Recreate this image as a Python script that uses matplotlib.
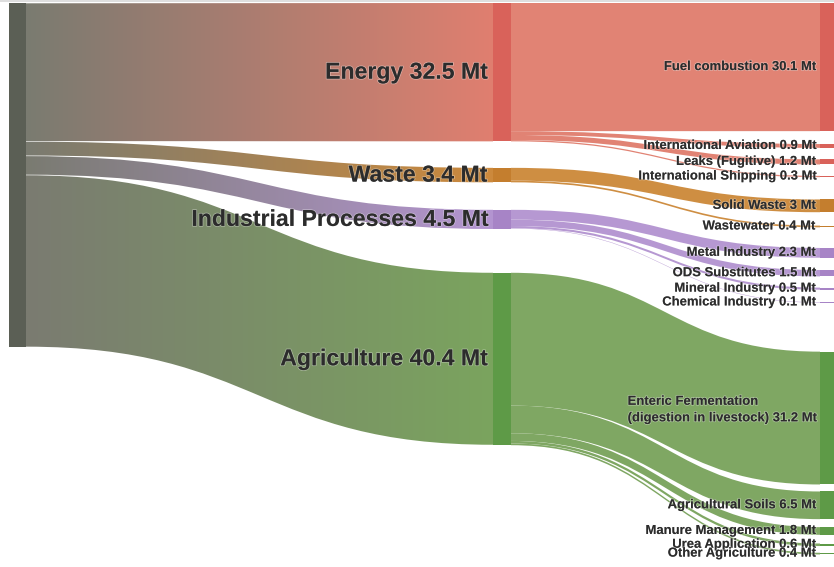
import numpy as np
import matplotlib
matplotlib.use("Agg")
import matplotlib.pyplot as plt
from matplotlib.path import Path
from matplotlib.patches import PathPatch, Rectangle
from matplotlib.colors import to_rgb
import matplotlib.patheffects as pe

# ---------------- data ----------------
sectors = ["Energy", "Waste", "Industrial Processes", "Agriculture"]
sector_values = [32.5, 3.4, 4.5, 40.4]

sub_names = ["Fuel combustion", "International Aviation", "Leaks (Fugitive)",
             "International Shipping", "Solid Waste", "Wastewater",
             "Metal Industry", "ODS Substitutes", "Mineral Industry",
             "Chemical Industry",
             "Enteric Fermentation\n(digestion in livestock)",
             "Agricultural Soils", "Manure Management", "Urea Application",
             "Other Agriculture"]
sub_parent = [0, 0, 0, 0, 1, 1, 2, 2, 2, 2, 3, 3, 3, 3, 3]
sub_values = [30.1, 0.9, 1.2, 0.3, 3, 0.4, 2.3, 1.5, 0.5, 0.1,
              31.2, 6.5, 1.8, 0.6, 0.4]

# ---------------- layout / style ----------------
W, H = 834, 567
SCALE = 4.257          # px per Mt
TOP = 3.0
SRC_X = (9, 26)
MID_X = (493, 511)
RIGHT_X = (820, 838)
mid_gaps = [0, 26.5, 27.5, 43.8]
right_gaps = [0, 12.9, 11.5, 11.4, 22.3, 13.4, 20.6, 12.3, 11.2, 12.5,
              49, 7, 8, 8.7, 6.7]

src_node_color = "#5b5f55"
src_link_color = "#7a7b71"
node_colors = ["#d9625a", "#c47e2e", "#a784c6", "#5e9a47"]
link_colors = ["#e07f6f", "#cd8a3c", "#b495d1", "#7ba45e"]
text_color = "#2c2c2c"
FONT = ["Liberation Sans", "DejaVu Sans"]


def fmt(v):
    return f"{v:g} Mt"


fig = plt.figure(figsize=(W / 100, H / 100), dpi=100)
ax = fig.add_axes([0, 0, 1, 1])
ax.set_xlim(0, W)
ax.set_ylim(H, 0)
ax.axis("off")


def band_path(x0, x1, a0, b0, a1, b1):
    xm = (x0 + x1) / 2
    verts = [(x0, a0), (xm, a0), (xm, a1), (x1, a1),
             (x1, b1),
             (xm, b1), (xm, b0), (x0, b0),
             (x0, a0)]
    codes = [Path.MOVETO, Path.CURVE4, Path.CURVE4, Path.CURVE4,
             Path.LINETO,
             Path.CURVE4, Path.CURVE4, Path.CURVE4,
             Path.CLOSEPOLY]
    return Path(verts, codes)


# source node
total = sum(sector_values)
src_top = TOP
ax.add_patch(Rectangle((SRC_X[0], src_top), SRC_X[1] - SRC_X[0],
                       total * SCALE, color=src_node_color, lw=0, zorder=3))

# middle nodes positions
mid_tops = []
y = TOP
for i, v in enumerate(sector_values):
    y += mid_gaps[i]
    mid_tops.append(y)
    y += v * SCALE

# right nodes positions
right_tops = []
y = TOP
for i, v in enumerate(sub_values):
    y += right_gaps[i]
    right_tops.append(y)
    y += v * SCALE

# source -> sector links with gradient
sy = src_top
for i, v in enumerate(sector_values):
    h = v * SCALE
    a0, b0 = sy, sy + h
    a1, b1 = mid_tops[i], mid_tops[i] + h
    path = band_path(SRC_X[1], MID_X[0], a0 + 0.3, b0 - 0.3, a1, b1)
    patch = PathPatch(path, transform=ax.transData, facecolor="none",
                      edgecolor="none")
    c0 = np.array(to_rgb(src_link_color))
    c1 = np.array(to_rgb(link_colors[i]))
    t = np.linspace(0, 1, 256)[:, None]
    grad = (c0 * (1 - t) + c1 * t)[None, :, :]
    ymin = min(a0, a1) - 1
    ymax = max(b0, b1) + 1
    im = ax.imshow(grad, extent=[SRC_X[1], MID_X[0] + 0.5, ymax, ymin],
                   aspect="auto", interpolation="bilinear", zorder=1)
    im.set_clip_path(patch)
    sy += h

# sector -> sub links
offsets = list(mid_tops)
for j, v in enumerate(sub_values):
    p = sub_parent[j]
    h = v * SCALE
    a0, b0 = offsets[p], offsets[p] + h
    a1, b1 = right_tops[j], right_tops[j] + h
    offsets[p] += h
    path = band_path(MID_X[1], RIGHT_X[0], a0, b0, a1, b1)
    ax.add_patch(PathPatch(path, facecolor=link_colors[p], edgecolor="none",
                           alpha=0.97, zorder=1))

# middle nodes
for i, v in enumerate(sector_values):
    ax.add_patch(Rectangle((MID_X[0], mid_tops[i]), MID_X[1] - MID_X[0],
                           v * SCALE, color=node_colors[i], lw=0, zorder=3))
# right nodes
for j, v in enumerate(sub_values):
    ax.add_patch(Rectangle((RIGHT_X[0], right_tops[j]),
                           RIGHT_X[1] - RIGHT_X[0], max(v * SCALE, 1.0),
                           color=node_colors[sub_parent[j]], lw=0, zorder=3))

halo = [pe.withStroke(linewidth=1.2, foreground=(1, 1, 1, 0.35))]

# middle labels
for i, v in enumerate(sector_values):
    cy = mid_tops[i] + v * SCALE / 2
    ax.text(MID_X[0] - 6, cy, f"{sectors[i]} {fmt(v)}", ha="right",
            va="center", fontsize=16.6, fontweight="bold", color=text_color,
            family=FONT, zorder=5, path_effects=halo)

# right labels
for j, v in enumerate(sub_values):
    cy = right_tops[j] + v * SCALE / 2
    name = sub_names[j]
    if "\n" in name:
        ax.text(RIGHT_X[0] - 5, cy - 8, f"{name} {fmt(v)}", ha="right",
                va="center", multialignment="left", linespacing=1.5,
                fontsize=9.4, fontweight="bold", color=text_color,
                family=FONT, zorder=5, path_effects=halo)
    else:
        ax.text(RIGHT_X[0] - 5, cy, f"{name} {fmt(v)}", ha="right",
                va="center", fontsize=9.4, fontweight="bold",
                color=text_color, family=FONT, zorder=5, path_effects=halo)

ax.axhline(0.5, color="#d8d8d8", lw=1.2, zorder=6)

fig.savefig("out.png", dpi=100)
